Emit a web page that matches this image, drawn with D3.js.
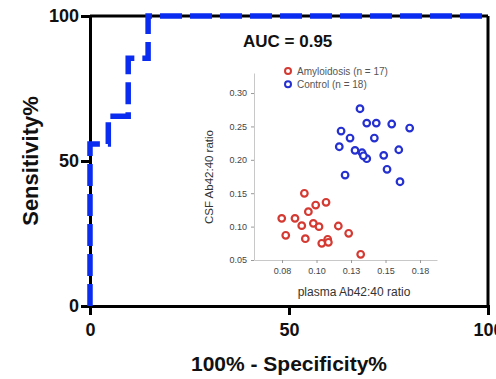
<!DOCTYPE html>
<html><head><meta charset="utf-8">
<script src="https://cdn.jsdelivr.net/npm/d3@7"></script>
<style>body{margin:0;background:#fff}svg{display:block}</style>
</head><body><svg id="c" width="496" height="379"></svg>
<script>
// ROC curve (100% - Specificity%, Sensitivity%)
const rocFpr  = [0, 0,    4.6,  4.6,  9.6,  9.6,  14.6, 14.6, 100];
const rocSens = [0, 55.9, 55.9, 65.4, 65.4, 85.4, 85.4, 100,  100];
const mainTicks = [0, 50, 100];
const aucLabel = "AUC = 0.95";

// Inset scatter
const amyPlasma = [0.0912,0.1069,0.0994,0.0941,0.0748,0.0844,0.0893,0.0977,0.1018,0.1158,0.0777,0.0919,0.1233,0.1038,0.1081,0.1086,0.1320];
const amyCsf    = [0.1499,0.1364,0.1323,0.1223,0.1124,0.1124,0.1014,0.1049,0.0999,0.1009,0.0870,0.0819,0.0900,0.0750,0.0810,0.0765,0.0585];
const ctlPlasma = [0.1315,0.1364,0.1433,0.1545,0.1675,0.1178,0.1243,0.1419,0.1165,0.1279,0.1330,0.1364,0.1487,0.1596,0.1511,0.1207,0.1605,0.1340];
const ctlCsf    = [0.2765,0.2550,0.2550,0.2536,0.2476,0.2431,0.2326,0.2326,0.2196,0.2142,0.2106,0.2017,0.2067,0.2151,0.1858,0.1772,0.1672,0.2060];
const insetXTicks = [0.075,0.1,0.125,0.15,0.175];
const insetXLabels = ["0.08","0.10","0.13","0.15","0.18"];
const insetYTicks = [0.05,0.10,0.15,0.20,0.25,0.30];
const insetYLabels = ["0.05","0.10","0.15","0.20","0.25","0.30"];
const legendLabels = ["Amyloidosis (n = 17)","Control (n = 18)"];
const xTitle = "100% - Specificity%", yTitle = "Sensitivity%";
const insetXTitle = "plasma Ab42:40 ratio", insetYTitle = "CSF Ab42:40 ratio";

const svg = d3.select("#c");
const F = "Liberation Sans, Arial, Helvetica, sans-serif";
const x = d3.scaleLinear([0,100],[90,488]);
const y = d3.scaleLinear([0,100],[306,16]);

// frame: top and right borders
svg.append("line").attr("x1",x(0)).attr("x2",x(100)).attr("y1",y(100)).attr("y2",y(100))
  .attr("stroke","#000").attr("stroke-width",3);
svg.append("line").attr("x1",x(100)).attr("x2",x(100)).attr("y1",y(100)).attr("y2",y(0))
  .attr("stroke","#000").attr("stroke-width",3);

const gx = svg.append("g").attr("transform",`translate(0,${y(0)})`)
  .call(d3.axisBottom(x).tickValues(mainTicks).tickSize(9).tickPadding(8));
const gy = svg.append("g").attr("transform",`translate(${x(0)},0)`)
  .call(d3.axisLeft(y).tickValues(mainTicks).tickSize(9).tickPadding(2));
[gx,gy].forEach(g=>{
  g.select(".domain").attr("stroke","#000").attr("stroke-width",3);
  g.selectAll(".tick line").attr("stroke","#000").attr("stroke-width",3);
  g.selectAll(".tick text").attr("fill","#111").style("font-family",F).style("font-weight","bold").style("font-size","18px");
});

svg.append("text").attr("x",289).attr("y",371).attr("text-anchor","middle")
  .style("font-family",F).style("font-weight","bold").style("font-size","21px").attr("fill","#111").text(xTitle);
svg.append("text").attr("transform","translate(38,161) rotate(-90)").attr("text-anchor","middle")
  .style("font-family",F).style("font-weight","bold").style("font-size","22px").attr("fill","#111").text(yTitle);

// ROC line
const rocData = rocFpr.map((v,i)=>[v,rocSens[i]]);
svg.append("path").datum(rocData)
  .attr("d",d3.line().x(d=>x(d[0])).y(d=>y(d[1])))
  .attr("fill","none").attr("stroke","#0a2cf0").attr("stroke-width",5.5)
  .attr("stroke-dasharray","22,8");

svg.append("text").attr("x",243).attr("y",47).style("font-family",F).style("font-weight","bold")
  .style("font-size","17px").attr("fill","#111").text(aucLabel);

// Inset
const sx = d3.scaleLinear([0.0547,0.1873],[254,437]);
const sy = d3.scaleLinear([0.05,0.33],[260,73]);
const ix = svg.append("g").attr("transform","translate(0,260)")
  .call(d3.axisBottom(sx).tickValues(insetXTicks).tickFormat((d,i)=>insetXLabels[i]).tickSize(3).tickSizeOuter(0).tickPadding(5));
const iy = svg.append("g").attr("transform","translate(254,0)")
  .call(d3.axisLeft(sy).tickValues(insetYTicks).tickFormat((d,i)=>insetYLabels[i]).tickSize(3).tickSizeOuter(0).tickPadding(4));
[ix,iy].forEach(g=>{
  g.select(".domain").attr("stroke","#c8c8c8").attr("stroke-width",1);
  g.selectAll(".tick line").attr("stroke","#999");
  g.selectAll(".tick text").attr("fill","#444").style("font-family",F).style("font-size","9px");
});
svg.append("text").attr("x",354).attr("y",296).attr("text-anchor","middle")
  .style("font-family",F).style("font-size","12px").attr("fill","#333").text(insetXTitle);
svg.append("text").attr("transform","translate(213,177) rotate(-90)").attr("text-anchor","middle")
  .style("font-family",F).style("font-size","11.5px").attr("fill","#333").text(insetYTitle);

const red = "#d43a32", blue = "#2530d0";
svg.append("g").selectAll("circle").data(amyPlasma).join("circle")
  .attr("cx",d=>sx(d)).attr("cy",(d,i)=>sy(amyCsf[i])).attr("r",3.3)
  .attr("fill","#fff").attr("stroke",red).attr("stroke-width",2.2);
svg.append("g").selectAll("circle").data(ctlPlasma).join("circle")
  .attr("cx",d=>sx(d)).attr("cy",(d,i)=>sy(ctlCsf[i])).attr("r",3.3)
  .attr("fill","#fff").attr("stroke",blue).attr("stroke-width",2.2);

const lg = svg.append("g");
legendLabels.forEach((t,i)=>{
  lg.append("circle").attr("cx",288).attr("cy",71+i*13.3).attr("r",3).attr("fill","#fff")
    .attr("stroke",i?blue:red).attr("stroke-width",2);
  lg.append("text").attr("x",297).attr("y",74.5+i*13.3).style("font-family",F).style("font-size","10px")
    .attr("fill","#555").text(t);
});
</script></body></html>
